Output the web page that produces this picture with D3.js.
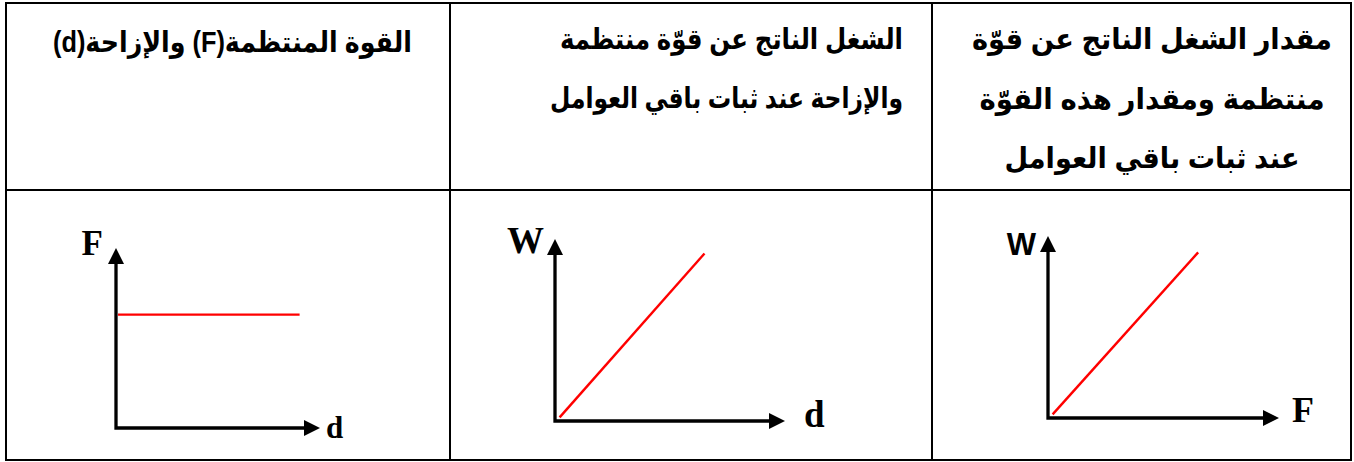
<!DOCTYPE html>
<html lang="ar">
<head>
<meta charset="UTF-8">
<title>الشغل والقوة والإزاحة</title>
<script src="https://d3js.org/d3.v7.min.js"></script>
<style>
    body { margin: 0; background: #fff; }
    svg { display: block; }
    .head { font-family: "Liberation Sans", "DejaVu Sans", sans-serif; font-weight: bold; direction: rtl; unicode-bidi: embed; }
</style>
</head>
<body>
<div id="chart"></div>
<script>
    // header text of each cell, left to right as seen
    const headerLines = [
        ["القوة المنتظمة(F) والإزاحة(d)"],
        ["الشغل الناتج عن قوّة منتظمة", "والإزاحة عند ثبات باقي العوامل"],
        ["مقدار الشغل الناتج عن قوّة", "منتظمة ومقدار هذه القوّة", "عند ثبات باقي العوامل"]
    ];
    // axis names of the three small graphs
    const xNames = ["d", "d", "F"];
    const yNames = ["F", "W", "W"];
    // red line end points, in axis units (0..10)
    const lineX = [[0.1, 9.0], [0.2, 6.5], [0.2, 6.5]];
    const lineY = [[6.3, 6.3], [0.2, 9.2], [0.2, 9.1]];

    const width = 1354, height = 462;
    const colX = [6, 450, 932, 1351];
    const rowY = [3, 190, 460];

    // where each graph sits inside its cell
    const panels = [
        { ox: 116, oy: 428, xEnd: 320, yEnd: 248, yLab: [103, 255, 35, "serif"], xLab: [326, 438, 31, "serif"] },
        { ox: 555, oy: 421, xEnd: 785, yEnd: 239, yLab: [544, 253, 37, "serif"], xLab: [804, 427, 37, "serif"] },
        { ox: 1048, oy: 418, xEnd: 1279, yEnd: 236, yLab: [1036, 255, 31, "sans"], xLab: [1292, 422, 36, "serif"] }
    ];
    // header placement: right/centre x, baselines, widths of each line
    const heads = [
        { x: 412, ys: [52], ws: [359], anchor: "start" },
        { x: 903, ys: [49, 108], ws: [343, 353], anchor: "start" },
        { x: 1152, ys: [49, 109, 168], ws: [360, 345, 295], anchor: "middle" }
    ];

    const svg = d3.select("#chart").append("svg")
        .attr("width", width).attr("height", height);

    // table grid
    const grid = svg.append("g").attr("stroke", "#000").attr("stroke-width", 2);
    colX.forEach(x => grid.append("line").attr("x1", x).attr("x2", x).attr("y1", rowY[0] - 1).attr("y2", rowY[2] + 1));
    rowY.forEach(y => grid.append("line").attr("x1", colX[0] - 1).attr("x2", colX[3] + 1).attr("y1", y).attr("y2", y));

    // header text
    headerLines.forEach((lines, i) => {
        const h = heads[i];
        svg.append("g").selectAll("text")
            .data(lines)
            .join("text")
            .attr("class", "head")
            .attr("x", h.x)
            .attr("y", (d, j) => h.ys[j])
            .attr("text-anchor", h.anchor)
            .attr("font-size", 29)
            .attr("textLength", (d, j) => h.ws[j])
            .attr("lengthAdjust", "spacingAndGlyphs")
            .text(d => d);
    });

    const fonts = { serif: "'Liberation Serif', 'DejaVu Serif', serif", sans: "'Liberation Sans', Arial, sans-serif" };

    panels.forEach((p, i) => {
        const x = d3.scaleLinear().domain([0, 10]).range([p.ox, p.xEnd]);
        const y = d3.scaleLinear().domain([0, 10]).range([p.oy, p.yEnd]);
        const g = svg.append("g");
        const ah = 16, aw = 8;

        // axes with arrow heads
        g.append("path")
            .attr("d", `M${x(0)},${y(10) + ah - 1}L${x(0)},${y(0)}L${x(10) - ah + 1},${y(0)}`)
            .attr("fill", "none").attr("stroke", "#000").attr("stroke-width", 3.3)
            .attr("stroke-linejoin", "miter");
        g.append("path")
            .attr("d", `M${x(0)},${y(10)}L${x(0) - aw},${y(10) + ah}L${x(0) + aw},${y(10) + ah}Z`)
            .attr("fill", "#000");
        g.append("path")
            .attr("d", `M${x(10)},${y(0)}L${x(10) - ah},${y(0) - aw}L${x(10) - ah},${y(0) + aw}Z`)
            .attr("fill", "#000");

        // the red relation line
        const pts = d3.zip(lineX[i], lineY[i]);
        g.append("path")
            .datum(pts)
            .attr("d", d3.line().x(d => x(d[0])).y(d => y(d[1])))
            .attr("fill", "none").attr("stroke", "#ff0000").attr("stroke-width", 2.4);

        // axis names
        g.append("text")
            .attr("x", p.yLab[0]).attr("y", p.yLab[1])
            .attr("text-anchor", "end")
            .attr("font-family", fonts[p.yLab[3]]).attr("font-weight", "bold")
            .attr("font-size", p.yLab[2])
            .text(yNames[i]);
        g.append("text")
            .attr("x", p.xLab[0]).attr("y", p.xLab[1])
            .attr("font-family", fonts[p.xLab[3]]).attr("font-weight", "bold")
            .attr("font-size", p.xLab[2])
            .text(xNames[i]);
    });
</script>
</body>
</html>
